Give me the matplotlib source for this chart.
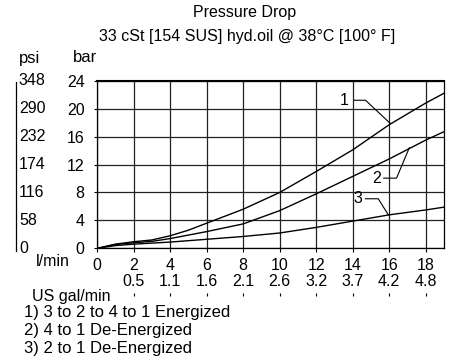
import matplotlib
matplotlib.use("Agg")
import matplotlib.pyplot as plt

plt.rcParams['font.family'] = ['Liberation Sans', 'DejaVu Sans']
plt.rcParams['font.size'] = 11.5

# flow in l/min and pressure drop in bar for the 3 paths
lpm = [0, 1, 2, 3, 4, 5, 6, 8, 10, 12, 14, 16, 18, 19]
curve1 = [0, 0.6, 0.95, 1.2, 1.8, 2.6, 3.6, 5.6, 8.0, 11.0, 14.1, 17.7, 20.8, 22.2]
curve2 = [0, 0.55, 0.8, 1.0, 1.4, 1.9, 2.4, 3.5, 5.4, 7.8, 10.3, 12.8, 15.5, 16.7]
curve3 = [0, 0.4, 0.6, 0.75, 0.9, 1.1, 1.3, 1.7, 2.2, 3.0, 3.9, 4.8, 5.5, 5.9]

bar_ticks = [0, 4, 8, 12, 16, 20, 24]
psi_labels = ['0', '58', '116', '174', '232', '290', '348']
lpm_ticks = [0, 2, 4, 6, 8, 10, 12, 14, 16, 18]
gpm_ticks = [2, 4, 6, 8, 10, 12, 14, 16, 18]
gpm_labels = ['0.5', '1.1', '1.6', '2.1', '2.6', '3.2', '3.7', '4.2', '4.8']

notes = ['1) 3 to 2 to 4 to 1 Energized',
         '2) 4 to 1 De-Energized',
         '3) 2 to 1 De-Energized']

# curve label, label pos, leader line points (data coords)
callouts = [
    ('1', (13.55, 21.2), [14.1, 14.7, 16.05], [21.2, 21.2, 17.9]),
    ('2', (15.3, 10.0), [15.7, 16.4, 17.1], [10.05, 10.05, 14.4]),
    ('3', (14.3, 7.1), [14.7, 15.4, 15.95], [7.1, 7.1, 4.8]),
]

fig = plt.figure(figsize=(4.54, 3.61), dpi=100)
ax = fig.add_axes([0.2137, 0.312, 0.7643, 0.4645])

ax.plot(lpm, curve1, color='black', lw=1)
ax.plot(lpm, curve2, color='black', lw=1)
ax.plot(lpm, curve3, color='black', lw=1)

ax.set_xlim(0, 19)
ax.set_ylim(0, 24)
ax.set_xticks(lpm_ticks)
ax.set_yticks(bar_ticks)
ax.grid(True, color='#222222', lw=0.9)
ax.tick_params(axis='y', length=2, pad=7)
ax.tick_params(axis='x', length=3, pad=4)
for s in ax.spines.values():
    s.set_linewidth(0.9)
ax.spines['top'].set_linewidth(1.5)

for lab, pos, xs, ys in callouts:
    ax.text(pos[0], pos[1], lab, ha='center', va='center')
    ax.plot(xs, ys, color='black', lw=0.8, clip_on=False)

# psi scale on the far left
for b, p in zip(bar_ticks, psi_labels):
    ax.text(-0.225, b, p, transform=ax.get_yaxis_transform(), ha='left', va='center')
fig.add_artist(plt.Line2D([16 / 454, 16 / 454], [1 - 82 / 361, 1 - 251 / 361], color='black', lw=0.9))

# US gal/min scale
sec = ax.secondary_xaxis(-0.283)
sec.set_xticks(gpm_ticks)
sec.set_xticklabels(gpm_labels)
sec.xaxis.set_ticks_position('top')
sec.tick_params(axis='x', direction='out', length=2, pad=3)
sec.spines['top'].set_bounds(1.4, 19)
sec.spines['top'].set_linewidth(0.9)
sec.spines['bottom'].set_visible(False)

fig.text(245 / 454, 1 - 13 / 361, 'Pressure Drop', ha='center', va='center')
fig.text(247 / 454, 1 - 37 / 361, '33 cSt [154 SUS] hyd.oil @ 38°C [100° F]', ha='center', va='center')
fig.text(30 / 454, 1 - 58 / 361, 'psi', ha='center', va='center', fontsize=12)
fig.text(85 / 454, 1 - 58 / 361, 'bar', ha='center', va='center', fontsize=12)
fig.text(53 / 454, 1 - 262 / 361, 'l/min', ha='center', va='center')
fig.text(32 / 454, 1 - 296 / 361, 'US gal/min', ha='left', va='center')

for i, n in enumerate(notes):
    fig.text(24 / 454, 1 - (313 + i * 17.5) / 361, n, ha='left', va='center', fontsize=12)

fig.savefig('out.png', dpi=100)
